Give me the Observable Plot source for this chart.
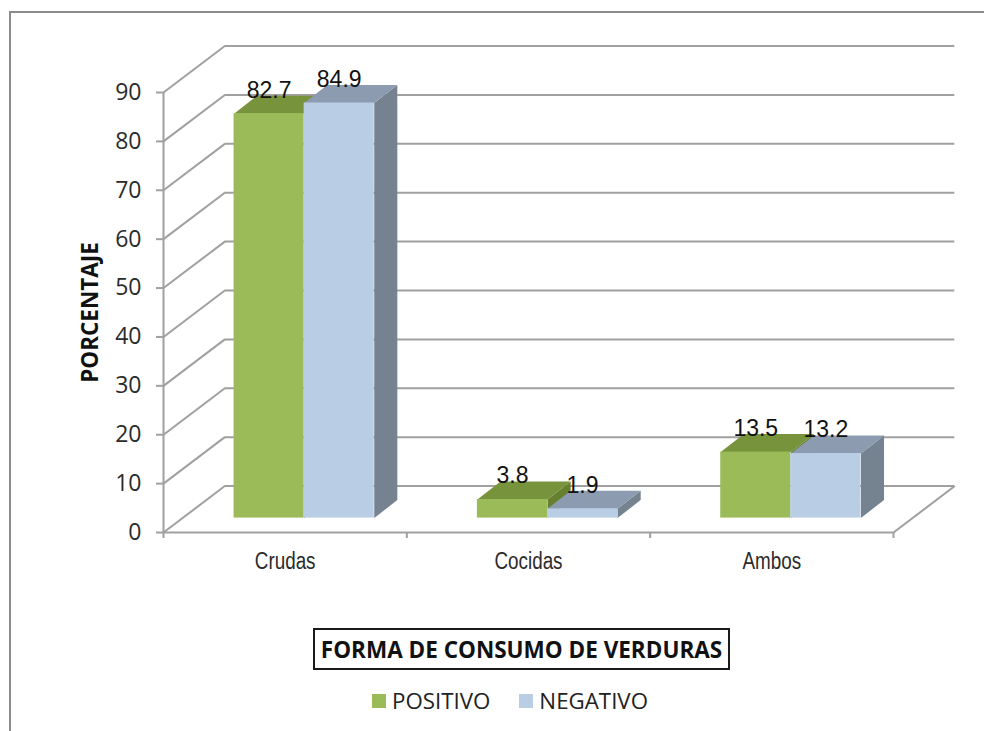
<!DOCTYPE html>
<html><head><meta charset="utf-8">
<script src="https://cdn.jsdelivr.net/npm/d3@7"></script>
<script src="https://cdn.jsdelivr.net/npm/@observablehq/plot@0.6"></script>
<style>
html,body{margin:0;padding:0;background:#fff}
body{width:984px;height:731px;overflow:hidden;position:relative;font-family:"Open Sans","Lato",sans-serif}
#frame{position:absolute;left:9px;top:11px;width:990px;height:730px;border-top:2px solid #8c8c8c;border-left:2px solid #8c8c8c;box-sizing:border-box}
#chart{position:absolute;left:0;top:0}
#xtitle{position:absolute;left:313px;top:628px;width:417px;height:42px;border:2px solid #1a1a1a;box-sizing:border-box;display:flex;align-items:center;justify-content:center;font-weight:700;font-size:22.5px;color:#111;white-space:nowrap}
#legend{position:absolute;top:685px;left:372px;display:flex;align-items:center;font-size:22.3px;color:#222;white-space:nowrap}
.sw{display:inline-block;width:14px;height:14px;margin-right:6px}
.item{display:flex;align-items:center;margin-right:29px}
</style>
</head><body>
<div id="frame"></div>
<div id="chart"></div>
<div id="xtitle"></div>
<div id="legend"></div>
<script>
// ---- data ----
const categories = ["Crudas", "Cocidas", "Ambos"];
const seriesNames = ["POSITIVO", "NEGATIVO"];
const positivo = [82.7, 3.8, 13.5];
const negativo = [84.9, 1.9, 13.2];
const yTicks = [0, 10, 20, 30, 40, 50, 60, 70, 80, 90];
const xTitle = "FORMA DE CONSUMO DE VERDURAS";
const yTitle = "PORCENTAJE";

// ---- colours ----
const front = ["#9bbb59", "#b9cde5"];
const topC = ["#77933c", "#8c9bb0"];
const sideC = ["#66802f", "#758391"];
const grid = "#a0a0a0";

// 3D depth expressed in data units (x: category bands, y: percentage)
const DX = 0.252, DY = 9.5;         // wall depth
const OX = 0.078, OY = 2.95;        // bar front plane
const BDX = 0.095, BDY = 3.7;       // bar depth
const BW = 0.288;                   // bar width (category units)

const bars = [];
categories.forEach((c, i) => {
  [positivo[i], negativo[i]].forEach((v, s) => {
    const x0 = i + 0.5 + OX + (s === 0 ? -BW : 0);
    bars.push({cat: c, s, v, x0, x1: x0 + BW});
  });
});
function poly(kind, s) {
  const pts = [];
  bars.filter(b => b.s === s).forEach(b => {
    const id = b.cat;
    const t = OY + b.v;
    let p;
    if (kind === "top") p = [[b.x0, t], [b.x1, t], [b.x1 + BDX, t + BDY], [b.x0 + BDX, t + BDY]];
    else p = [[b.x1, OY], [b.x1, t], [b.x1 + BDX, t + BDY], [b.x1 + BDX, OY + BDY]];
    p.forEach(q => pts.push({id, x: q[0], y: q[1]}));
  });
  return pts;
}

const marks = [
  // back wall gridlines
  Plot.ruleY(yTicks, {y: d => d + DY, x1: () => DX, x2: () => 3 + DX, stroke: grid, strokeWidth: 2}),
  // side wall diagonals
  Plot.link(yTicks, {x1: () => 0, y1: d => d, x2: () => DX, y2: d => d + DY, stroke: grid, strokeWidth: 2}),
  // floor right edge
  Plot.link([3], {x1: d => d, y1: () => 0, x2: d => d + DX, y2: () => DY, stroke: grid, strokeWidth: 2}),
  // front axis lines
  Plot.ruleX([0], {y1: 0, y2: 90, stroke: grid, strokeWidth: 2}),
  Plot.ruleY([0], {stroke: grid, strokeWidth: 2}),
  Plot.axisY(yTicks, {tickSize: 7, tickPadding: 15, stroke: grid, strokeWidth: 2, fill: "#2b2b2b", fontSize: 23, fontFamily: "Open Sans", label: null}),
  Plot.axisX([0, 1, 2, 3], {tickSize: 6, stroke: grid, strokeWidth: 2, tickFormat: () => "", label: null}),
  Plot.text(categories, {x: (d, i) => i + 0.5, y: () => 0, text: d => d, dy: 29, fontSize: 23, fontFamily: "Liberation Sans", fill: "#2b2b2b"}),
  Plot.text([yTitle], {frameAnchor: "left", textAnchor: "middle", dx: -73, rotate: -90, text: d => d, fontSize: 22.5, fontWeight: "bold", fontFamily: "Open Sans", fill: "#111"})
];
[0, 1].forEach(s => {
  marks.push(Plot.line(poly("side", s), {x: "x", y: "y", z: "id", fill: sideC[s], stroke: "none"}));
  marks.push(Plot.line(poly("top", s), {x: "x", y: "y", z: "id", fill: topC[s], stroke: "none"}));
  marks.push(Plot.rect(bars.filter(b => b.s === s), {x1: "x0", x2: "x1", y1: () => OY, y2: b => OY + b.v, fill: front[s]}));
});
marks.push(Plot.text(bars, {x: b => (b.x0 + b.x1) / 2, y: b => OY + b.v + BDY, text: b => b.v.toFixed(1), lineAnchor: "bottom", dy: 2, fontSize: 23, fontFamily: "Liberation Sans", fill: "#111"}));

const chart = Plot.plot({
  width: 984, height: 600,
  marginLeft: 163, marginRight: 91, marginTop: 92, marginBottom: 68,
  x: {type: "linear", domain: [0, 3], axis: null},
  y: {type: "linear", domain: [0, 90], axis: null},
  style: {background: "transparent", overflow: "visible"},
  marks
});
document.getElementById("chart").appendChild(chart);
// condense category labels (Arial Narrow look), keeping their centre in place
chart.querySelectorAll("text").forEach(el => {
  if (!categories.includes(el.textContent)) return;
  const bb = el.getBBox();
  const cx = bb.x + bb.width / 2;
  const t = el.getAttribute("transform") || "";
  el.setAttribute("transform", `${t} translate(${cx},0) scale(0.82,1) translate(${-cx},0)`);
});
document.getElementById("xtitle").textContent = xTitle;
const lg = document.getElementById("legend");
seriesNames.forEach((n, s) => {
  const it = document.createElement("div"); it.className = "item";
  const sw = document.createElement("span"); sw.className = "sw"; sw.style.background = front[s];
  it.appendChild(sw); it.appendChild(document.createTextNode(n));
  lg.appendChild(it);
});
</script>
</body></html>
